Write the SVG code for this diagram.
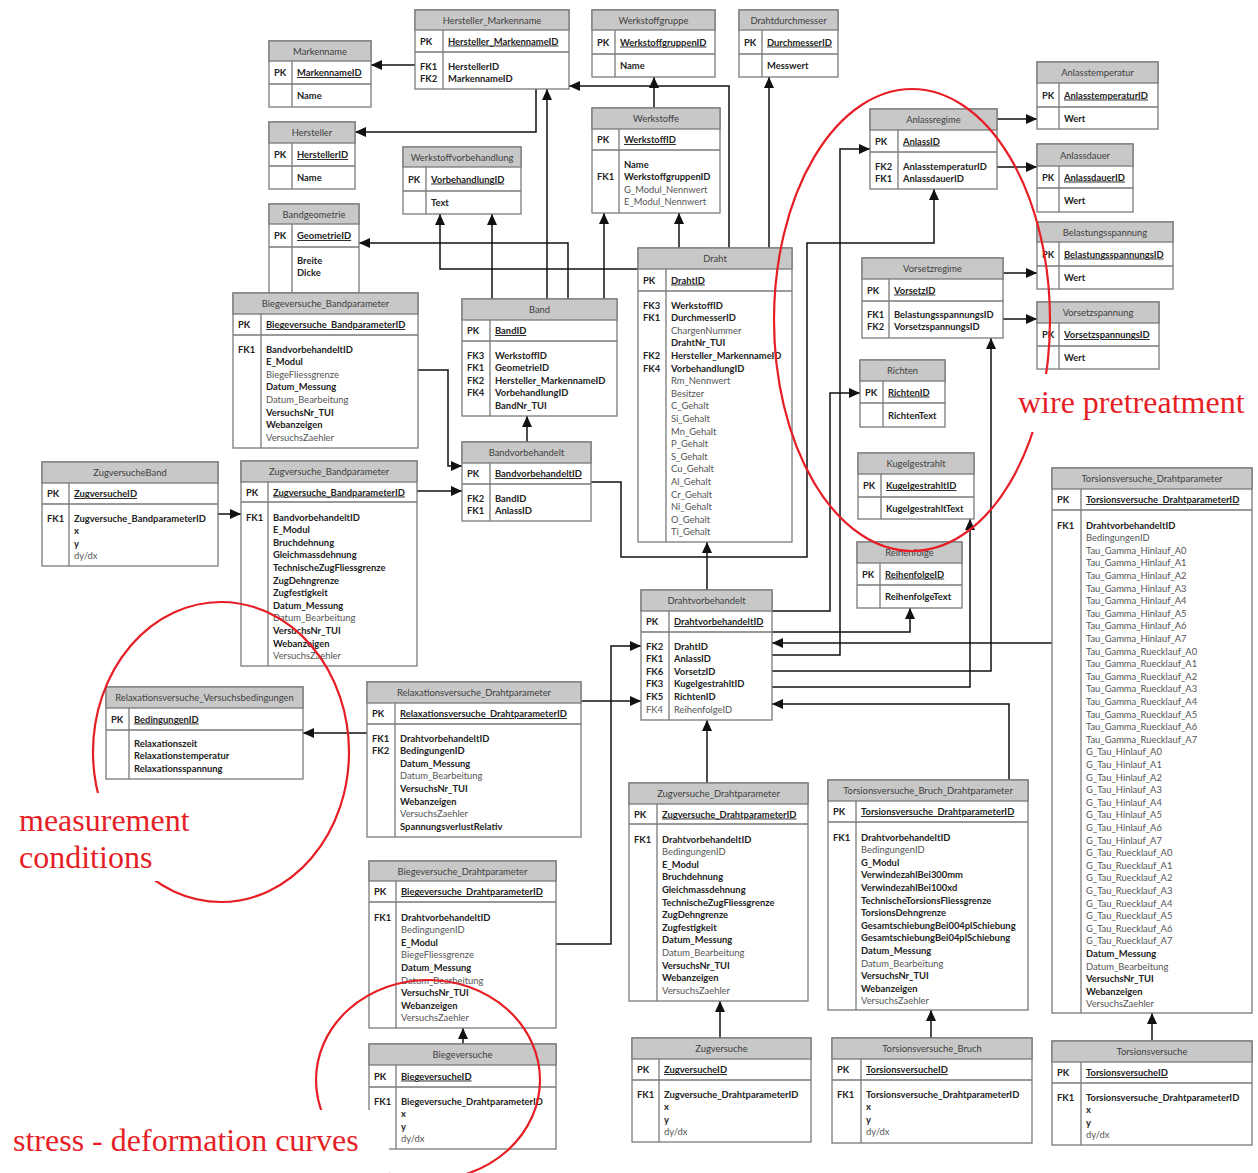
<svg xmlns="http://www.w3.org/2000/svg" width="1258" height="1173" viewBox="0 0 1258 1173">
<defs>
<marker id="a" markerUnits="userSpaceOnUse" markerWidth="11" markerHeight="10" refX="11" refY="5" orient="auto"><path d="M0,0L11,5L0,10z" fill="#111"/></marker>
</defs>
<style>
.bx{fill:#fff;stroke:#7a7a7a;stroke-width:1.3}
.hf{fill:#c8c8c8;stroke:#7a7a7a;stroke-width:1.3}
.ln{fill:none;stroke:#7a7a7a;stroke-width:1.3}
text{font-family:Lato,"Liberation Sans",sans-serif;font-size:9.4px}
.h{fill:#404040;text-anchor:middle}
.k,.b{font-weight:bold;fill:#222}
.p{font-weight:bold;fill:#222;text-decoration:underline}
.n{font-weight:normal;fill:#555}
.c{fill:none;stroke:#111;stroke-width:1.5;marker-end:url(#a)}
.r{fill:none;stroke:#e61e25;stroke-width:2.2}
.rt{font-family:"Liberation Serif",serif;font-size:32px;fill:#e61e25}
</style>
<rect width="1258" height="1173" fill="#fff"/>

<g id="connectors">
<path class="c" d="M415 65H371"/>
<path class="c" d="M536 89V132H355"/>
<path class="c" d="M568 299V243H359"/>
<path class="c" d="M492 299V214"/>
<path class="c" d="M547 299V89"/>
<path class="c" d="M604 299V213"/>
<path class="c" d="M638 269H440V214"/>
<path class="c" d="M679 248V213"/>
<path class="c" d="M729 248V86H569"/>
<path class="c" d="M769 248V77"/>
<path class="c" d="M654 108V77"/>
<path class="c" d="M527 442V416"/>
<path class="c" d="M418 370H448V466H462"/>
<path class="c" d="M417 491H462"/>
<path class="c" d="M218 514H241"/>
<path class="c" d="M591 482H621V557H807V243H934V189"/>
<path class="c" d="M707 590V542"/>
<path class="c" d="M997 119H1037"/>
<path class="c" d="M997 167H1037"/>
<path class="c" d="M1003 273H1037"/>
<path class="c" d="M1003 319H1037"/>
<path class="c" d="M772 655H840V149H870"/>
<path class="c" d="M772 611H830V393H860"/>
<path class="c" d="M772 632H910V608"/>
<path class="c" d="M1052 643H772"/>
<path class="c" d="M772 671H991V338"/>
<path class="c" d="M772 687H970V519"/>
<path class="c" d="M1009 780V704H772"/>
<path class="c" d="M556 944H611V646H641"/>
<path class="c" d="M581 701H641"/>
<path class="c" d="M707 783V720"/>
<path class="c" d="M367 733H303"/>
<path class="c" d="M720 1038V1001"/>
<path class="c" d="M463 1044V1028"/>
<path class="c" d="M931 1038V1010"/>
<path class="c" d="M1152 1041V1013"/>
</g>

<g id="Markenname">
<rect class="bx" x="269" y="41" width="102" height="66"/><rect class="hf" x="269" y="41" width="102" height="20"/>
<path class="ln" d="M269 84H371M292 61V107"/>
<text class="h" x="320" y="54.5">Markenname</text>
<text class="k" x="274" y="76">PK</text><text class="p" x="297" y="76">MarkennameID</text>
<text class="b" x="297" y="99">Name</text>
</g>

<g id="Hersteller">
<rect class="bx" x="269" y="122" width="86" height="67"/><rect class="hf" x="269" y="122" width="86" height="21"/>
<path class="ln" d="M269 166H355M292 143V189"/>
<text class="h" x="312" y="136">Hersteller</text>
<text class="k" x="274" y="158">PK</text><text class="p" x="297" y="158">HerstellerID</text>
<text class="b" x="297" y="181">Name</text>
</g>

<g id="Bandgeometrie">
<rect class="bx" x="269" y="204" width="90" height="89"/><rect class="hf" x="269" y="204" width="90" height="20"/>
<path class="ln" d="M269 247H359M292 224V293"/>
<text class="h" x="314" y="217.5">Bandgeometrie</text>
<text class="k" x="274" y="239">PK</text><text class="p" x="297" y="239">GeometrieID</text>
<text class="b" x="297" y="263.5">Breite<tspan x="297" dy="12.6">Dicke</tspan></text>
</g>

<g id="Hersteller_Markenname">
<rect class="bx" x="415" y="10" width="154" height="79"/><rect class="hf" x="415" y="10" width="154" height="20"/>
<path class="ln" d="M415 52H569M443 30V89"/>
<text class="h" x="492" y="23.5">Hersteller_Markenname</text>
<text class="k" x="420" y="44.5">PK</text><text class="p" x="448" y="44.5">Hersteller_MarkennameID</text>
<text class="k" x="420" y="69.5">FK1<tspan x="420" dy="12.6">FK2</tspan></text>
<text class="b" x="448" y="69.5">HerstellerID<tspan x="448" dy="12.6">MarkennameID</tspan></text>
</g>

<g id="Werkstoffgruppe">
<rect class="bx" x="592" y="10" width="123" height="67"/><rect class="hf" x="592" y="10" width="123" height="20"/>
<path class="ln" d="M592 54H715M615 30V77"/>
<text class="h" x="653.5" y="23.5">Werkstoffgruppe</text>
<text class="k" x="597" y="45.5">PK</text><text class="p" x="620" y="45.5">WerkstoffgruppenID</text>
<text class="b" x="620" y="69">Name</text>
</g>

<g id="Drahtdurchmesser">
<rect class="bx" x="739" y="10" width="99" height="67"/><rect class="hf" x="739" y="10" width="99" height="20"/>
<path class="ln" d="M739 54H838M762 30V77"/>
<text class="h" x="788.5" y="23.5">Drahtdurchmesser</text>
<text class="k" x="744" y="45.5">PK</text><text class="p" x="767" y="45.5">DurchmesserID</text>
<text class="b" x="767" y="69">Messwert</text>
</g>

<g id="Werkstoffe">
<rect class="bx" x="592" y="108" width="128" height="105"/><rect class="hf" x="592" y="108" width="128" height="21"/>
<path class="ln" d="M592 150H720M619 129V213"/>
<text class="h" x="656" y="122">Werkstoffe</text>
<text class="k" x="597" y="143">PK</text><text class="p" x="624" y="143">WerkstoffID</text>
<text class="k" x="597" y="180.1">FK1</text>
<text class="b" x="624" y="167.5">Name<tspan x="624" dy="12.6">WerkstoffgruppenID</tspan><tspan class="n" x="624" dy="12.6">G_Modul_Nennwert</tspan><tspan class="n" x="624" dy="12.6">E_Modul_Nennwert</tspan></text>
</g>

<g id="Werkstoffvorbehandlung">
<rect class="bx" x="403" y="147" width="118" height="67"/><rect class="hf" x="403" y="147" width="118" height="20"/>
<path class="ln" d="M403 191H521M426 167V214"/>
<text class="h" x="462" y="160.5">Werkstoffvorbehandlung</text>
<text class="k" x="408" y="182.5">PK</text><text class="p" x="431" y="182.5">VorbehandlungID</text>
<text class="b" x="431" y="206">Text</text>
</g>

<g id="Draht">
<rect class="bx" x="638" y="248" width="154" height="294"/><rect class="hf" x="638" y="248" width="154" height="21"/>
<path class="ln" d="M638 291H792M666 269V542"/>
<text class="h" x="715" y="262">Draht</text>
<text class="k" x="643" y="283.5">PK</text><text class="p" x="671" y="283.5">DrahtID</text>
<text class="k" x="643" y="308.5">FK3<tspan x="643" dy="12.6">FK1</tspan><tspan x="643" dy="37.8">FK2</tspan><tspan x="643" dy="12.6">FK4</tspan></text>
<text class="b" x="671" y="308.5">WerkstoffID<tspan x="671" dy="12.6">DurchmesserID</tspan><tspan class="n" x="671" dy="12.6">ChargenNummer</tspan><tspan x="671" dy="12.6">DrahtNr_TUI</tspan><tspan x="671" dy="12.6">Hersteller_MarkennameID</tspan><tspan x="671" dy="12.6">VorbehandlungID</tspan><tspan class="n" x="671" dy="12.6">Rm_Nennwert</tspan><tspan class="n" x="671" dy="12.6">Besitzer</tspan><tspan class="n" x="671" dy="12.6">C_Gehalt</tspan><tspan class="n" x="671" dy="12.6">Si_Gehalt</tspan><tspan class="n" x="671" dy="12.6">Mn_Gehalt</tspan><tspan class="n" x="671" dy="12.6">P_Gehalt</tspan><tspan class="n" x="671" dy="12.6">S_Gehalt</tspan><tspan class="n" x="671" dy="12.6">Cu_Gehalt</tspan><tspan class="n" x="671" dy="12.6">Al_Gehalt</tspan><tspan class="n" x="671" dy="12.6">Cr_Gehalt</tspan><tspan class="n" x="671" dy="12.6">Ni_Gehalt</tspan><tspan class="n" x="671" dy="12.6">O_Gehalt</tspan><tspan class="n" x="671" dy="12.6">Ti_Gehalt</tspan></text>
</g>

<g id="Band">
<rect class="bx" x="462" y="299" width="155" height="117"/><rect class="hf" x="462" y="299" width="155" height="21"/>
<path class="ln" d="M462 341H617M490 320V416"/>
<text class="h" x="539.5" y="313">Band</text>
<text class="k" x="467" y="334">PK</text><text class="p" x="495" y="334">BandID</text>
<text class="k" x="467" y="358.5">FK3<tspan x="467" dy="12.6">FK1</tspan><tspan x="467" dy="12.6">FK2</tspan><tspan x="467" dy="12.6">FK4</tspan></text>
<text class="b" x="495" y="358.5">WerkstoffID<tspan x="495" dy="12.6">GeometrieID</tspan><tspan x="495" dy="12.6">Hersteller_MarkennameID</tspan><tspan x="495" dy="12.6">VorbehandlungID</tspan><tspan x="495" dy="12.6">BandNr_TUI</tspan></text>
</g>

<g id="Bandvorbehandelt">
<rect class="bx" x="462" y="442" width="129" height="79"/><rect class="hf" x="462" y="442" width="129" height="21"/>
<path class="ln" d="M462 484H591M490 463V521"/>
<text class="h" x="526.5" y="456">Bandvorbehandelt</text>
<text class="k" x="467" y="477">PK</text><text class="p" x="495" y="477">BandvorbehandeltID</text>
<text class="k" x="467" y="501.5">FK2<tspan x="467" dy="12.6">FK1</tspan></text>
<text class="b" x="495" y="501.5">BandID<tspan x="495" dy="12.6">AnlassID</tspan></text>
</g>

<g id="Biegeversuche_Bandparameter">
<rect class="bx" x="233" y="293" width="185" height="155"/><rect class="hf" x="233" y="293" width="185" height="21"/>
<path class="ln" d="M233 335H418M261 314V448"/>
<text class="h" x="325.5" y="307">Biegeversuche_Bandparameter</text>
<text class="k" x="238" y="328">PK</text><text class="p" x="266" y="328">Biegeversuche_BandparameterID</text>
<text class="k" x="238" y="352.5">FK1</text>
<text class="b" x="266" y="352.5">BandvorbehandeltID<tspan x="266" dy="12.6">E_Modul</tspan><tspan class="n" x="266" dy="12.6">BiegeFliessgrenze</tspan><tspan x="266" dy="12.6">Datum_Messung</tspan><tspan class="n" x="266" dy="12.6">Datum_Bearbeitung</tspan><tspan x="266" dy="12.6">VersuchsNr_TUI</tspan><tspan x="266" dy="12.6">Webanzeigen</tspan><tspan class="n" x="266" dy="12.6">VersuchsZaehler</tspan></text>
</g>

<g id="ZugversucheBand">
<rect class="bx" x="42" y="462" width="176" height="104"/><rect class="hf" x="42" y="462" width="176" height="21"/>
<path class="ln" d="M42 504H218M69 483V566"/>
<text class="h" x="130" y="476">ZugversucheBand</text>
<text class="k" x="47" y="497">PK</text><text class="p" x="74" y="497">ZugversucheID</text>
<text class="k" x="47" y="521.5">FK1</text>
<text class="b" x="74" y="521.5">Zugversuche_BandparameterID<tspan x="74" dy="12.6">x</tspan><tspan x="74" dy="12.6">y</tspan><tspan class="n" x="74" dy="12.6">dy/dx</tspan></text>
</g>

<g id="Zugversuche_Bandparameter">
<rect class="bx" x="241" y="461" width="176" height="205"/><rect class="hf" x="241" y="461" width="176" height="21"/>
<path class="ln" d="M241 502H417M268 482V666"/>
<text class="h" x="329" y="475">Zugversuche_Bandparameter</text>
<text class="k" x="246" y="495.5">PK</text><text class="p" x="273" y="495.5">Zugversuche_BandparameterID</text>
<text class="k" x="246" y="520.5">FK1</text>
<text class="b" x="273" y="520.5">BandvorbehandeltID<tspan x="273" dy="12.6">E_Modul</tspan><tspan x="273" dy="12.6">Bruchdehnung</tspan><tspan x="273" dy="12.6">Gleichmassdehnung</tspan><tspan x="273" dy="12.6">TechnischeZugFliessgrenze</tspan><tspan x="273" dy="12.6">ZugDehngrenze</tspan><tspan x="273" dy="12.6">Zugfestigkeit</tspan><tspan x="273" dy="12.6">Datum_Messung</tspan><tspan class="n" x="273" dy="12.6">Datum_Bearbeitung</tspan><tspan x="273" dy="12.6">VersuchsNr_TUI</tspan><tspan x="273" dy="12.6">Webanzeigen</tspan><tspan class="n" x="273" dy="12.6">VersuchsZaehler</tspan></text>
</g>

<g id="Relaxationsversuche_Versuchsbedingungen">
<rect class="bx" x="106" y="687" width="197" height="92"/><rect class="hf" x="106" y="687" width="197" height="21"/>
<path class="ln" d="M106 730H303M129 708V779"/>
<text class="h" x="204.5" y="701">Relaxationsversuche_Versuchsbedingungen</text>
<text class="k" x="111" y="722.5">PK</text><text class="p" x="134" y="722.5">BedingungenID</text>
<text class="b" x="134" y="746.5">Relaxationszeit<tspan x="134" dy="12.6">Relaxationstemperatur</tspan><tspan x="134" dy="12.6">Relaxationsspannung</tspan></text>
</g>

<g id="Relaxationsversuche_Drahtparameter">
<rect class="bx" x="367" y="682" width="214" height="155"/><rect class="hf" x="367" y="682" width="214" height="21"/>
<path class="ln" d="M367 724H581M395 703V837"/>
<text class="h" x="474" y="696">Relaxationsversuche_Drahtparameter</text>
<text class="k" x="372" y="717">PK</text><text class="p" x="400" y="717">Relaxationsversuche_DrahtparameterID</text>
<text class="k" x="372" y="741.5">FK1<tspan x="372" dy="12.6">FK2</tspan></text>
<text class="b" x="400" y="741.5">DrahtvorbehandeltID<tspan x="400" dy="12.6">BedingungenID</tspan><tspan x="400" dy="12.6">Datum_Messung</tspan><tspan class="n" x="400" dy="12.6">Datum_Bearbeitung</tspan><tspan x="400" dy="12.6">VersuchsNr_TUI</tspan><tspan x="400" dy="12.6">Webanzeigen</tspan><tspan class="n" x="400" dy="12.6">VersuchsZaehler</tspan><tspan x="400" dy="12.6">SpannungsverlustRelativ</tspan></text>
</g>

<g id="Biegeversuche_Drahtparameter">
<rect class="bx" x="369" y="861" width="187" height="167"/><rect class="hf" x="369" y="861" width="187" height="20"/>
<path class="ln" d="M369 902H556M396 881V1028"/>
<text class="h" x="462.5" y="874.5">Biegeversuche_Drahtparameter</text>
<text class="k" x="374" y="895">PK</text><text class="p" x="401" y="895">Biegeversuche_DrahtparameterID</text>
<text class="k" x="374" y="920.5">FK1</text>
<text class="b" x="401" y="920.5">DrahtvorbehandeltID<tspan class="n" x="401" dy="12.6">BedingungenID</tspan><tspan x="401" dy="12.6">E_Modul</tspan><tspan class="n" x="401" dy="12.6">BiegeFliessgrenze</tspan><tspan x="401" dy="12.6">Datum_Messung</tspan><tspan class="n" x="401" dy="12.6">Datum_Bearbeitung</tspan><tspan x="401" dy="12.6">VersuchsNr_TUI</tspan><tspan x="401" dy="12.6">Webanzeigen</tspan><tspan class="n" x="401" dy="12.6">VersuchsZaehler</tspan></text>
</g>

<g id="Biegeversuche">
<rect class="bx" x="369" y="1044" width="187" height="105"/><rect class="hf" x="369" y="1044" width="187" height="21"/>
<path class="ln" d="M369 1087H556M396 1065V1149"/>
<text class="h" x="462.5" y="1058">Biegeversuche</text>
<text class="k" x="374" y="1079.5">PK</text><text class="p" x="401" y="1079.5">BiegeversucheID</text>
<text class="k" x="374" y="1104.5">FK1</text>
<text class="b" x="401" y="1104.5">Biegeversuche_DrahtparameterID<tspan x="401" dy="12.6">x</tspan><tspan x="401" dy="12.6">y</tspan><tspan class="n" x="401" dy="12.6">dy/dx</tspan></text>
</g>

<g id="Drahtvorbehandelt">
<rect class="bx" x="641" y="590" width="131" height="130"/><rect class="hf" x="641" y="590" width="131" height="21"/>
<path class="ln" d="M641 632H772M669 611V720"/>
<text class="h" x="706.5" y="604">Drahtvorbehandelt</text>
<text class="k" x="646" y="625">PK</text><text class="p" x="674" y="625">DrahtvorbehandeltID</text>
<text class="k" x="646" y="649.5">FK2<tspan x="646" dy="12.6">FK1</tspan><tspan x="646" dy="12.6">FK6</tspan><tspan x="646" dy="12.6">FK3</tspan><tspan x="646" dy="12.6">FK5</tspan><tspan class="n" x="646" dy="12.6">FK4</tspan></text>
<text class="b" x="674" y="649.5">DrahtID<tspan x="674" dy="12.6">AnlassID</tspan><tspan x="674" dy="12.6">VorsetzID</tspan><tspan x="674" dy="12.6">KugelgestrahltID</tspan><tspan x="674" dy="12.6">RichtenID</tspan><tspan class="n" x="674" dy="12.6">ReihenfolgeID</tspan></text>
</g>

<g id="Zugversuche_Drahtparameter">
<rect class="bx" x="629" y="783" width="179" height="218"/><rect class="hf" x="629" y="783" width="179" height="21"/>
<path class="ln" d="M629 824H808M657 804V1001"/>
<text class="h" x="718.5" y="797">Zugversuche_Drahtparameter</text>
<text class="k" x="634" y="817.5">PK</text><text class="p" x="662" y="817.5">Zugversuche_DrahtparameterID</text>
<text class="k" x="634" y="842.5">FK1</text>
<text class="b" x="662" y="842.5">DrahtvorbehandeltID<tspan class="n" x="662" dy="12.6">BedingungenID</tspan><tspan x="662" dy="12.6">E_Modul</tspan><tspan x="662" dy="12.6">Bruchdehnung</tspan><tspan x="662" dy="12.6">Gleichmassdehnung</tspan><tspan x="662" dy="12.6">TechnischeZugFliessgrenze</tspan><tspan x="662" dy="12.6">ZugDehngrenze</tspan><tspan x="662" dy="12.6">Zugfestigkeit</tspan><tspan x="662" dy="12.6">Datum_Messung</tspan><tspan class="n" x="662" dy="12.6">Datum_Bearbeitung</tspan><tspan x="662" dy="12.6">VersuchsNr_TUI</tspan><tspan x="662" dy="12.6">Webanzeigen</tspan><tspan class="n" x="662" dy="12.6">VersuchsZaehler</tspan></text>
</g>

<g id="Zugversuche">
<rect class="bx" x="632" y="1038" width="179" height="104"/><rect class="hf" x="632" y="1038" width="179" height="21"/>
<path class="ln" d="M632 1080H811M659 1059V1142"/>
<text class="h" x="721.5" y="1052">Zugversuche</text>
<text class="k" x="637" y="1073">PK</text><text class="p" x="664" y="1073">ZugversucheID</text>
<text class="k" x="637" y="1097.5">FK1</text>
<text class="b" x="664" y="1097.5">Zugversuche_DrahtparameterID<tspan x="664" dy="12.6">x</tspan><tspan x="664" dy="12.6">y</tspan><tspan class="n" x="664" dy="12.6">dy/dx</tspan></text>
</g>

<g id="Torsionsversuche_Bruch_Drahtparameter">
<rect class="bx" x="828" y="780" width="200" height="230"/><rect class="hf" x="828" y="780" width="200" height="21"/>
<path class="ln" d="M828 822H1028M856 801V1010"/>
<text class="h" x="928" y="794">Torsionsversuche_Bruch_Drahtparameter</text>
<text class="k" x="833" y="815">PK</text><text class="p" x="861" y="815">Torsionsversuche_DrahtparameterID</text>
<text class="k" x="833" y="840.5">FK1</text>
<text class="b" x="861" y="840.5">DrahtvorbehandeltID<tspan class="n" x="861" dy="12.6">BedingungenID</tspan><tspan x="861" dy="12.6">G_Modul</tspan><tspan x="861" dy="12.6">VerwindezahlBei300mm</tspan><tspan x="861" dy="12.6">VerwindezahlBei100xd</tspan><tspan x="861" dy="12.6">TechnischeTorsionsFliessgrenze</tspan><tspan x="861" dy="12.6">TorsionsDehngrenze</tspan><tspan x="861" dy="12.6">GesamtschiebungBei004plSchiebung</tspan><tspan x="861" dy="12.6">GesamtschiebungBei04plSchiebung</tspan><tspan x="861" dy="12.6">Datum_Messung</tspan><tspan class="n" x="861" dy="12.6">Datum_Bearbeitung</tspan><tspan x="861" dy="12.6">VersuchsNr_TUI</tspan><tspan x="861" dy="12.6">Webanzeigen</tspan><tspan class="n" x="861" dy="12.6">VersuchsZaehler</tspan></text>
</g>

<g id="Torsionsversuche_Bruch">
<rect class="bx" x="832" y="1038" width="200" height="105"/><rect class="hf" x="832" y="1038" width="200" height="21"/>
<path class="ln" d="M832 1080H1032M861 1059V1143"/>
<text class="h" x="932" y="1052">Torsionsversuche_Bruch</text>
<text class="k" x="837" y="1073">PK</text><text class="p" x="866" y="1073">TorsionsversucheID</text>
<text class="k" x="837" y="1097.5">FK1</text>
<text class="b" x="866" y="1097.5">Torsionsversuche_DrahtparameterID<tspan x="866" dy="12.6">x</tspan><tspan x="866" dy="12.6">y</tspan><tspan class="n" x="866" dy="12.6">dy/dx</tspan></text>
</g>

<g id="Torsionsversuche">
<rect class="bx" x="1052" y="1041" width="200" height="104"/><rect class="hf" x="1052" y="1041" width="200" height="21"/>
<path class="ln" d="M1052 1083H1252M1081 1062V1145"/>
<text class="h" x="1152" y="1055">Torsionsversuche</text>
<text class="k" x="1057" y="1076">PK</text><text class="p" x="1086" y="1076">TorsionsversucheID</text>
<text class="k" x="1057" y="1100.5">FK1</text>
<text class="b" x="1086" y="1100.5">Torsionsversuche_DrahtparameterID<tspan x="1086" dy="12.6">x</tspan><tspan x="1086" dy="12.6">y</tspan><tspan class="n" x="1086" dy="12.6">dy/dx</tspan></text>
</g>

<g id="Torsionsversuche_Drahtparameter">
<rect class="bx" x="1052" y="468" width="200" height="545"/><rect class="hf" x="1052" y="468" width="200" height="21"/>
<path class="ln" d="M1052 510H1252M1081 489V1013"/>
<text class="h" x="1152" y="482">Torsionsversuche_Drahtparameter</text>
<text class="k" x="1057" y="503">PK</text><text class="p" x="1086" y="503">Torsionsversuche_DrahtparameterID</text>
<text class="k" x="1057" y="528.5">FK1</text>
<text class="n" x="1086" y="528.5"><tspan class="b">DrahtvorbehandeltID</tspan><tspan x="1086" dy="12.6">BedingungenID</tspan><tspan x="1086" dy="12.6">Tau_Gamma_Hinlauf_A0</tspan><tspan x="1086" dy="12.6">Tau_Gamma_Hinlauf_A1</tspan><tspan x="1086" dy="12.6">Tau_Gamma_Hinlauf_A2</tspan><tspan x="1086" dy="12.6">Tau_Gamma_Hinlauf_A3</tspan><tspan x="1086" dy="12.6">Tau_Gamma_Hinlauf_A4</tspan><tspan x="1086" dy="12.6">Tau_Gamma_Hinlauf_A5</tspan><tspan x="1086" dy="12.6">Tau_Gamma_Hinlauf_A6</tspan><tspan x="1086" dy="12.6">Tau_Gamma_Hinlauf_A7</tspan><tspan x="1086" dy="12.6">Tau_Gamma_Ruecklauf_A0</tspan><tspan x="1086" dy="12.6">Tau_Gamma_Ruecklauf_A1</tspan><tspan x="1086" dy="12.6">Tau_Gamma_Ruecklauf_A2</tspan><tspan x="1086" dy="12.6">Tau_Gamma_Ruecklauf_A3</tspan><tspan x="1086" dy="12.6">Tau_Gamma_Ruecklauf_A4</tspan><tspan x="1086" dy="12.6">Tau_Gamma_Ruecklauf_A5</tspan><tspan x="1086" dy="12.6">Tau_Gamma_Ruecklauf_A6</tspan><tspan x="1086" dy="12.6">Tau_Gamma_Ruecklauf_A7</tspan><tspan x="1086" dy="12.6">G_Tau_Hinlauf_A0</tspan><tspan x="1086" dy="12.6">G_Tau_Hinlauf_A1</tspan><tspan x="1086" dy="12.6">G_Tau_Hinlauf_A2</tspan><tspan x="1086" dy="12.6">G_Tau_Hinlauf_A3</tspan><tspan x="1086" dy="12.6">G_Tau_Hinlauf_A4</tspan><tspan x="1086" dy="12.6">G_Tau_Hinlauf_A5</tspan><tspan x="1086" dy="12.6">G_Tau_Hinlauf_A6</tspan><tspan x="1086" dy="12.6">G_Tau_Hinlauf_A7</tspan><tspan x="1086" dy="12.6">G_Tau_Ruecklauf_A0</tspan><tspan x="1086" dy="12.6">G_Tau_Ruecklauf_A1</tspan><tspan x="1086" dy="12.6">G_Tau_Ruecklauf_A2</tspan><tspan x="1086" dy="12.6">G_Tau_Ruecklauf_A3</tspan><tspan x="1086" dy="12.6">G_Tau_Ruecklauf_A4</tspan><tspan x="1086" dy="12.6">G_Tau_Ruecklauf_A5</tspan><tspan x="1086" dy="12.6">G_Tau_Ruecklauf_A6</tspan><tspan x="1086" dy="12.6">G_Tau_Ruecklauf_A7</tspan><tspan class="b" x="1086" dy="12.6">Datum_Messung</tspan><tspan x="1086" dy="12.6">Datum_Bearbeitung</tspan><tspan class="b" x="1086" dy="12.6">VersuchsNr_TUI</tspan><tspan class="b" x="1086" dy="12.6">Webanzeigen</tspan><tspan x="1086" dy="12.6">VersuchsZaehler</tspan></text>
</g>

<g id="Anlasstemperatur">
<rect class="bx" x="1037" y="62" width="121" height="67"/><rect class="hf" x="1037" y="62" width="121" height="21"/>
<path class="ln" d="M1037 107H1158M1059 83V129"/>
<text class="h" x="1097.5" y="76">Anlasstemperatur</text>
<text class="k" x="1042" y="98.5">PK</text><text class="p" x="1064" y="98.5">AnlasstemperaturID</text>
<text class="b" x="1064" y="121.5">Wert</text>
</g>

<g id="Anlassregime">
<rect class="bx" x="870" y="109" width="127" height="80"/><rect class="hf" x="870" y="109" width="127" height="21"/>
<path class="ln" d="M870 152H997M898 130V189"/>
<text class="h" x="933.5" y="123">Anlassregime</text>
<text class="k" x="875" y="144.5">PK</text><text class="p" x="903" y="144.5">AnlassID</text>
<text class="k" x="875" y="169.5">FK2<tspan x="875" dy="12.6">FK1</tspan></text>
<text class="b" x="903" y="169.5">AnlasstemperaturID<tspan x="903" dy="12.6">AnlassdauerID</tspan></text>
</g>

<g id="Anlassdauer">
<rect class="bx" x="1037" y="144" width="96" height="68"/><rect class="hf" x="1037" y="144" width="96" height="22"/>
<path class="ln" d="M1037 188H1133M1059 166V212"/>
<text class="h" x="1085" y="158.5">Anlassdauer</text>
<text class="k" x="1042" y="180.5">PK</text><text class="p" x="1064" y="180.5">AnlassdauerID</text>
<text class="b" x="1064" y="203.5">Wert</text>
</g>

<g id="Belastungsspannung">
<rect class="bx" x="1037" y="222" width="136" height="67"/><rect class="hf" x="1037" y="222" width="136" height="20"/>
<path class="ln" d="M1037 266H1173M1059 242V289"/>
<text class="h" x="1105" y="235.5">Belastungsspannung</text>
<text class="k" x="1042" y="257.5">PK</text><text class="p" x="1064" y="257.5">BelastungsspannungsID</text>
<text class="b" x="1064" y="281">Wert</text>
</g>

<g id="Vorsetzregime">
<rect class="bx" x="862" y="258" width="141" height="80"/><rect class="hf" x="862" y="258" width="141" height="21"/>
<path class="ln" d="M862 301H1003M889 279V338"/>
<text class="h" x="932.5" y="272">Vorsetzregime</text>
<text class="k" x="867" y="293.5">PK</text><text class="p" x="894" y="293.5">VorsetzID</text>
<text class="k" x="867" y="317.5">FK1<tspan x="867" dy="12.6">FK2</tspan></text>
<text class="b" x="894" y="317.5">BelastungsspannungsID<tspan x="894" dy="12.6">VorsetzspannungsID</tspan></text>
</g>

<g id="Vorsetzspannung">
<rect class="bx" x="1037" y="302" width="122" height="67"/><rect class="hf" x="1037" y="302" width="122" height="21"/>
<path class="ln" d="M1037 346H1159M1059 323V369"/>
<text class="h" x="1098" y="316">Vorsetzspannung</text>
<text class="k" x="1042" y="338">PK</text><text class="p" x="1064" y="338">VorsetzspannungsID</text>
<text class="b" x="1064" y="361">Wert</text>
</g>

<g id="Richten">
<rect class="bx" x="860" y="360" width="85" height="67"/><rect class="hf" x="860" y="360" width="85" height="21"/>
<path class="ln" d="M860 403H945M883 381V427"/>
<text class="h" x="902.5" y="374">Richten</text>
<text class="k" x="865" y="395.5">PK</text><text class="p" x="888" y="395.5">RichtenID</text>
<text class="b" x="888" y="418.5">RichtenText</text>
</g>

<g id="Kugelgestrahlt">
<rect class="bx" x="858" y="453" width="116" height="66"/><rect class="hf" x="858" y="453" width="116" height="21"/>
<path class="ln" d="M858 497H974M881 474V519"/>
<text class="h" x="916" y="467">Kugelgestrahlt</text>
<text class="k" x="863" y="489">PK</text><text class="p" x="886" y="489">KugelgestrahltID</text>
<text class="b" x="886" y="511.5">KugelgestrahltText</text>
</g>

<g id="Reihenfolge">
<rect class="bx" x="857" y="542" width="105" height="66"/><rect class="hf" x="857" y="542" width="105" height="21"/>
<path class="ln" d="M857 585H962M880 563V608"/>
<text class="h" x="909.5" y="556">Reihenfolge</text>
<text class="k" x="862" y="577.5">PK</text><text class="p" x="885" y="577.5">ReihenfolgeID</text>
<text class="b" x="885" y="600">ReihenfolgeText</text>
</g>

<g id="annotations">
<ellipse class="r" cx="912" cy="320" rx="138" ry="231"/>
<ellipse class="r" cx="221" cy="752" rx="128" ry="150"/>
<ellipse class="r" cx="428" cy="1080" rx="112" ry="100"/>
<rect x="1012" y="374" width="244" height="58" fill="#fff"/>
<rect x="8" y="793" width="188" height="88" fill="#fff"/>
<rect x="0" y="1110" width="389" height="63" fill="#fff"/>
<text class="rt" x="1018" y="413">wire pretreatment</text>
<text class="rt" x="19" y="831">measurement</text>
<text class="rt" x="19" y="868">conditions</text>
<text class="rt" x="13" y="1151">stress - deformation curves</text>
</g>
</svg>
